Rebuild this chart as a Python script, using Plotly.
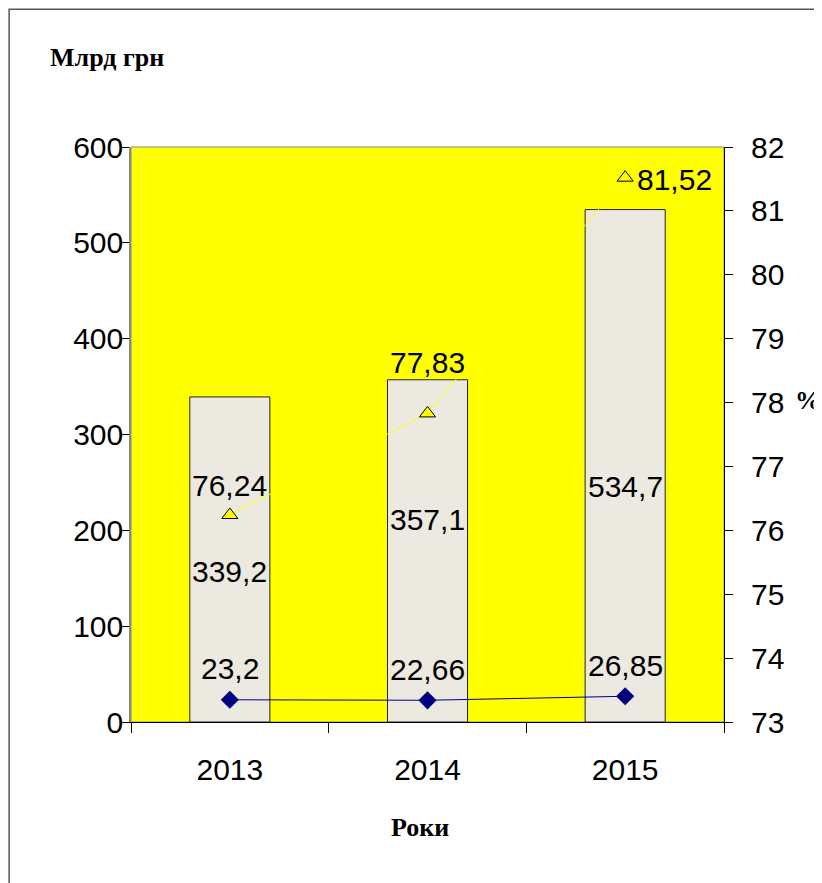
import plotly.graph_objects as go

years = ["2013", "2014", "2015"]
bar_values = [339.2, 357.1, 534.7]
diamond_values = [23.2, 22.66, 26.85]
triangle_values = [76.24, 77.83, 81.52]
left_ticks = [0, 100, 200, 300, 400, 500, 600]
right_ticks = [73, 74, 75, 76, 77, 78, 79, 80, 81, 82]

def fmt(v):
    return ("%g" % v).replace(".", ",")

AX_FONT = dict(family="Liberation Sans, Arial", size=30, color="#000")
LBL_FONT = dict(family="Liberation Sans, Arial", size=30, color="#000")
TITLE_FONT = dict(family="Liberation Serif, Times New Roman", size=26, color="#000")

fig = go.Figure()
fig.add_trace(go.Bar(
    x=years, y=bar_values, width=0.405,
    marker=dict(color="#ECE9E0", line=dict(color="#222222", width=1)),
    showlegend=False, hoverinfo="skip"))
fig.add_trace(go.Scatter(
    x=years, y=diamond_values, mode="lines+markers",
    marker=dict(symbol="diamond", size=14, color="#000080"),
    line=dict(color="#000080", width=1), showlegend=False, cliponaxis=False))
fig.add_trace(go.Scatter(
    x=years, y=triangle_values, yaxis="y2", mode="lines+markers",
    marker=dict(symbol="triangle-up", size=14, color="#FFFF00",
                line=dict(color="#000000", width=1)),
    line=dict(color="#FFFF00", width=1), showlegend=False, cliponaxis=False))

annotations = []
bar_shift = [-12, 31, -21]
for i, (v, s) in enumerate(zip(bar_values, bar_shift)):
    annotations.append(dict(x=i, y=v / 2, xref="x", yref="y", text=fmt(v),
                            showarrow=False, yshift=s, font=LBL_FONT))
for i, v in enumerate(diamond_values):
    annotations.append(dict(x=i, y=v, xref="x", yref="y", text=fmt(v),
                            showarrow=False, yshift=31, font=LBL_FONT))
tri_shift = [(0, 30), (0, 51), (49, -2)]
for i, (v, (sx, sy)) in enumerate(zip(triangle_values, tri_shift)):
    annotations.append(dict(x=i, y=v, xref="x", yref="y2", text=fmt(v),
                            showarrow=False, xshift=sx, yshift=sy, font=LBL_FONT))

annotations += [
    dict(x=-0.14, y=1.1548, xref="paper", yref="paper", text="<b>Млрд грн</b>",
         showarrow=False, xanchor="left", yanchor="middle", font=TITLE_FONT),
    dict(x=1.1417, y=0.56, xref="paper", yref="paper", text="<b>%</b>",
         showarrow=False, xanchor="center", yanchor="middle", font=TITLE_FONT),
    dict(x=0.487, y=-0.1843, xref="paper", yref="paper", text="<b>Роки</b>",
         showarrow=False, xanchor="center", yanchor="middle", font=TITLE_FONT),
]

shapes = [
    dict(type="rect", xref="paper", yref="paper", x0=-0.2055, x1=1.2, y0=-0.3, y1=1.2395,
         line=dict(color="#555555", width=1.5), layer="below"),
    dict(type="rect", xref="paper", yref="paper", x0=0, x1=1, y0=0, y1=1,
         line=dict(color="#888888", width=1), layer="below"),
]

fig.update_layout(
    width=822, height=883,
    margin=dict(l=123, r=106, t=139, b=169),
    paper_bgcolor="#FFFFFF", plot_bgcolor="#FFFF00",
    xaxis=dict(type="category", range=[-0.5, 2.5], tickson="boundaries",
               ticks="outside", ticklen=10, tickangle=0, automargin=False,
               tickcolor="#000", showline=True, linecolor="#000", linewidth=1,
               showgrid=False, tickfont=AX_FONT, ticklabelstandoff=21),
    yaxis=dict(range=[0, 600], tickvals=left_ticks, ticks="outside", ticklen=7,
               automargin=False, ticklabelstandoff=-7,
               tickcolor="#000", showline=True, linecolor="#888888", linewidth=1.5,
               showgrid=False, zeroline=False, tickfont=AX_FONT),
    yaxis2=dict(range=[73, 82], tickvals=right_ticks, overlaying="y", side="right",
                ticks="outside", ticklen=8, tickcolor="#000", showline=True,
                automargin=False,
                linecolor="#000", linewidth=1, showgrid=False, zeroline=False,
                tickfont=AX_FONT, ticklabelstandoff=12),
    annotations=annotations, shapes=shapes,
)

fig.write_html("out.html")
